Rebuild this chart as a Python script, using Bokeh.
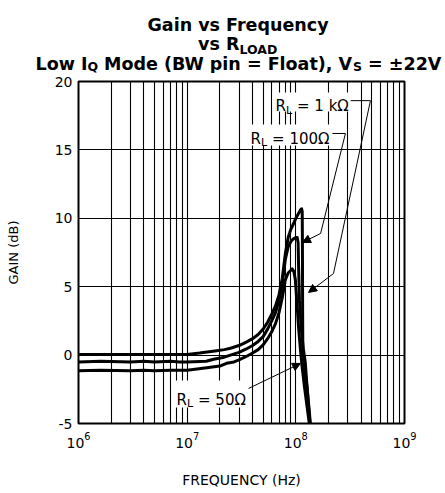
from bokeh.plotting import figure
from bokeh.layouts import column
from bokeh.models import Range1d, FixedTicker, Label, Arrow, NormalHead, BoxAnnotation
from bokeh.core.properties import value
from bokeh.embed import file_html
from bokeh.resources import INLINE

# ---- data ----
f_1k = [1e6, 2e6, 4e6, 7e6, 1e7, 1.3e7, 1.8e7, 2.2e7, 2.5e7, 3e7, 3.5e7, 4e7, 4.5e7, 5e7,
        5.5e7, 6e7, 6.5e7, 7e7, 7.5e7, 8e7, 8.5e7, 9e7, 9.5e7, 1.0e8, 1.05e8, 1.1e8, 1.13e8,
        1.145e8, 1.15e8, 1.155e8, 1.16e8, 1.2e8, 1.27e8, 1.32e8, 1.36e8]
g_1k = [0.05, 0.05, 0.05, 0.05, 0.05, 0.15, 0.3, 0.4, 0.5, 0.7, 0.95, 1.2, 1.5, 1.9,
        2.4, 3.0, 3.6, 4.4, 5.6, 7.4, 8.6, 9.2, 9.6, 10.0, 10.3, 10.6, 10.7,
        10.5, 8.0, 3.0, 0.3, -1.0, -2.4, -3.8, -5.0]

f_100 = [1e6, 1.6e6, 3e6, 4e6, 5e6, 7e6, 8.5e6, 1e7, 1.5e7, 1.75e7, 2.2e7, 2.5e7, 3e7, 3.5e7,
         4e7, 4.5e7, 5e7, 5.5e7, 6e7, 6.5e7, 7e7, 7.5e7, 8e7, 8.5e7, 9e7, 9.5e7, 1.0e8,
         1.03e8, 1.05e8, 1.06e8, 1.08e8, 1.12e8, 1.17e8, 1.22e8, 1.26e8, 1.3e8, 1.35e8]
g_100 = [-0.5, -0.45, -0.5, -0.45, -0.5, -0.45, -0.5, -0.5, -0.45, -0.3, -0.15, 0.0, 0.2, 0.45,
         0.7, 1.0, 1.35, 1.9, 2.5, 3.1, 4.0, 5.2, 7.0, 7.9, 8.3, 8.5, 8.6,
         8.6, 8.2, 6.5, 4.0, 2.0, 0.5, -0.5, -2.0, -3.5, -5.0]

f_50 = [1e6, 1.6e6, 3e6, 4e6, 5e6, 7e6, 1e7, 1.58e7, 2e7, 2.3e7, 2.7e7, 3e7, 3.5e7, 4e7,
        4.5e7, 5e7, 5.5e7, 6e7, 6.5e7, 7e7, 7.5e7, 8e7, 8.5e7, 9e7, 9.25e7, 9.6e7, 9.9e7,
        1.02e8, 1.06e8, 1.1e8, 1.14e8, 1.2e8, 1.27e8, 1.33e8]
g_50 = [-1.15, -1.1, -1.15, -1.1, -1.15, -1.1, -1.1, -0.9, -0.8, -0.6, -0.5, -0.35, -0.1, 0.15,
        0.4, 0.75, 1.2, 1.7, 2.3, 3.1, 4.2, 5.5, 6.0, 6.2, 6.3, 6.1, 5.5,
        4.0, 2.0, 0.5, -0.8, -2.3, -3.8, -5.0]

x_major = [1e6, 1e7, 1e8, 1e9]
x_minor = [m * 10 ** e for e in (6, 7, 8) for m in range(2, 10)]
y_major = [-5, 0, 5, 10, 15, 20]
y_labels = ["-5", "0", "5", "10", "15", "20"]

title_parts = ["Gain vs Frequency", "vs R", "LOAD", "Low I", "Q",
               "Mode (BW pin = Float), V", "S", "= \u00b122V"]
label_rest = ["= 1 k\u03a9", "= 100\u03a9", "= 50\u03a9"]

FONT = "DejaVu Sans"
W = 445
TH = 73

# ---- title strip (its own small figure; pixel coordinates) ----
t = figure(width=W, height=TH, x_range=Range1d(0, W), y_range=Range1d(TH, 0),
           output_backend="svg", toolbar_location=None, title=None,
           x_axis_location=None, y_axis_location=None,
           min_border_left=0, min_border_right=0, min_border_top=0, min_border_bottom=0)
t.frame_align = False
t.outline_line_color = None
t.xgrid.visible = False
t.ygrid.visible = False
t.background_fill_color = "white"
t.border_fill_color = "white"

def tt(i, x, y, size, align="left"):
    t.text(x=[x], y=[y], text=[title_parts[i]], text_font=value(FONT), text_font_style="bold",
           text_font_size=value(size), text_align=align, text_baseline="alphabetic",
           text_color="black")

tt(0, 237.5, 24, "17.5px", "center")
tt(1, 239, 43.5, "17.5px", "right")
tt(2, 239, 48.5, "12.5px")
tt(3, 35, 63, "17.5px")
tt(4, 86.9, 66, "12.5px")
tt(5, 103.6, 63, "17.5px")
tt(6, 352.5, 66, "12.5px")
tt(7, 367.6, 63, "17.5px")

# ---- main chart ----
p = figure(width=W, height=493 - TH, x_axis_type="log",
           x_range=Range1d(1e6, 1e9), y_range=Range1d(-5, 20),
           output_backend="svg", toolbar_location=None,
           min_border_left=78, min_border_right=41, min_border_top=81 - TH, min_border_bottom=70)
p.frame_align = False
p.background_fill_color = "white"
p.border_fill_color = "white"
p.outline_line_color = "black"
p.outline_line_width = 2

xt = FixedTicker(ticks=x_major, minor_ticks=x_minor)
yt = FixedTicker(ticks=y_major)
p.xaxis.ticker = xt
p.yaxis.ticker = yt
p.yaxis.major_label_overrides = {v: s for v, s in zip(y_major, y_labels)}
p.xgrid.ticker = xt
p.ygrid.ticker = yt
p.xgrid.grid_line_color = "black"
p.xgrid.minor_grid_line_color = "black"
p.ygrid.grid_line_color = "black"
p.xgrid.grid_line_width = 1.1
p.xgrid.minor_grid_line_width = 1.1
p.ygrid.grid_line_width = 1.1

for ax in (p.xaxis, p.yaxis):
    ax.axis_line_color = None
    ax.major_tick_line_color = None
    ax.minor_tick_line_color = None
    ax.major_tick_out = 0
    ax.major_tick_in = 0
    ax.minor_tick_out = 0
    ax.minor_tick_in = 0
    ax.major_label_text_font = FONT
    ax.major_label_text_color = "black"
    ax.axis_label_text_font = FONT
    ax.axis_label_text_font_style = "normal"
    ax.axis_label_text_color = "black"

p.xaxis.major_label_text_font_size = "14px"
p.yaxis.major_label_text_font_size = "14px"
p.xaxis.major_label_standoff = 8
p.yaxis.major_label_standoff = 6
p.xaxis.axis_label = "FREQUENCY (Hz)"
p.yaxis.axis_label = "GAIN (dB)"
p.xaxis.axis_label_text_font_size = "14px"
p.yaxis.axis_label_text_font_size = "13px"
p.xaxis.axis_label_standoff = 21
p.yaxis.axis_label_standoff = 31

for fx, gy in ((f_1k, g_1k), (f_100, g_100), (f_50, g_50)):
    p.line(fx, gy, line_color="black", line_width=3, line_join="round")

# ---- annotation boxes (white background under labels) ----
for l, r, b, tp in ((6.1e7, 3.1e8, 17.8, 19.2), (3.59e7, 2.17e8, 15.32, 16.86),
                    (7.48e6, 3.83e7, -3.83, -1.86)):
    p.add_layout(BoxAnnotation(left=l, right=r, bottom=b, top=tp, fill_color="white",
                               fill_alpha=1.0, line_color=None))

def rl_label(x, y, rest):
    p.add_layout(Label(x=x, y=y, text="R", text_font=FONT, text_font_size="15px",
                       text_color="black", text_baseline="alphabetic", text_align="left"))
    p.add_layout(Label(x=x, y=y, x_offset=10.4, y_offset=-4, text="L", text_font=FONT,
                       text_color="black", text_font_size="11px", text_baseline="alphabetic",
                       text_align="left"))
    p.add_layout(Label(x=x, y=y, x_offset=21.5, text=rest, text_font=FONT, text_font_size="15px",
                       text_color="black", text_baseline="alphabetic", text_align="left"))

rl_label(6.5e7, 18.2, label_rest[0])
rl_label(3.83e7, 15.83, label_rest[1])
rl_label(7.98e6, -3.25, label_rest[2])

def seg(x0, y0, x1, y1, head=False):
    kw = dict(end=NormalHead(size=8, fill_color="black", line_color="black")) if head else dict(end=None)
    p.add_layout(Arrow(x_start=x0, y_start=y0, x_end=x1, y_end=y1, line_color="black",
                       line_width=1, **kw))

seg(3.2e8, 18.6, 4.86e8, 18.6)
seg(4.86e8, 18.6, 2.22e8, 5.96)
seg(2.22e8, 5.96, 1.31e8, 4.58, head=True)
seg(2.17e8, 16.2, 2.86e8, 16.2)
seg(2.86e8, 16.2, 1.69e8, 8.89)
seg(1.69e8, 8.89, 1.15e8, 8.23, head=True)
seg(3.67e7, -2.44, 1.104e8, -0.61, head=True)

layout = column(t, p, spacing=0)
open("out.html", "w").write(file_html(layout, INLINE))
